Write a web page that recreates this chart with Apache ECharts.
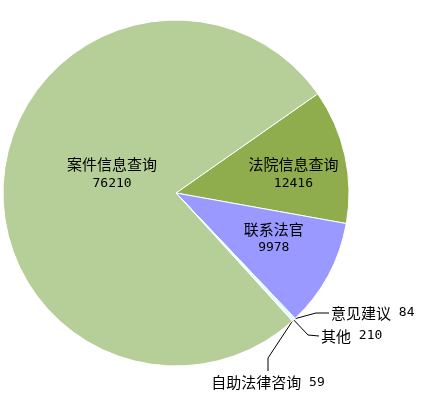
<!DOCTYPE html>
<html><head><meta charset="utf-8">
<script src="https://cdn.jsdelivr.net/npm/echarts@6/dist/echarts.min.js"></script>
<style>html,body{margin:0;padding:0;background:#fff}#c{width:421px;height:400px}</style>
</head><body><div id="c"></div>
<script>
var categories = ['法院信息查询', '联系法官', '意见建议', '其他', '自助法律咨询', '案件信息查询'];
var values = [12416, 9978, 84, 210, 59, 76210];
var colors = ['#8FAD4D', '#9999FF', '#336666', '#CCFFFF', '#FFFFCC', '#B6CE97'];

// label placement (styling/layout only)
var insideOffsets = {'法院信息查询': [30, 0], '联系法官': [19, 3], '案件信息查询': [25, -9]};
var outerLayout = {
  '意见建议': { bend: [316, 313], end: [329, 313], x: 331, y: 313, align: 'left', va: 'middle' },
  '其他': { bend: [308, 335], end: [319, 336], x: 321, y: 336, align: 'left', va: 'middle' },
  '自助法律咨询': { bend: [268, 358], end: [268, 371], x: 268, y: 373, align: 'center', va: 'top' }
};

var nameFont = '"Noto Sans CJK SC", sans-serif';
var numFont = '"DejaVu Sans Mono", monospace';

var chart = echarts.init(document.getElementById('c'));
var data = categories.map(function (name, i) {
  var item = { name: name, value: values[i], itemStyle: { color: colors[i] } };
  if (insideOffsets[name]) {
    item.label = { position: 'inside', formatter: '{n|{b}}\n{v|{c}}', offset: insideOffsets[name] };
    item.labelLine = { show: false };
  } else {
    item.label = { position: 'outside', formatter: '{n|{b}}{v| {c}}' };
  }
  return item;
});
chart.setOption({
  animation: false,
  series: [{
    type: 'pie',
    center: [176, 193],
    radius: 173,
    startAngle: 35,
    clockwise: true,
    avoidLabelOverlap: false,
    itemStyle: { borderColor: '#fff', borderWidth: 1 },
    label: {
      color: '#000', overflow: 'none',
      rich: {
        n: { fontSize: 15, lineHeight: 19, fontFamily: nameFont, color: '#000' },
        v: { fontSize: 13, lineHeight: 19, fontFamily: numFont, color: '#000' }
      }
    },
    labelLine: { show: true, length: 12, length2: 14, lineStyle: { color: '#000', width: 1 } },
    labelLayout: function (p) {
      var name = categories[p.dataIndex];
      var L = outerLayout[name];
      if (!L || !p.labelLinePoints) return {};
      var s = p.labelLinePoints[0];
      return {
        x: L.x, y: L.y, align: L.align, verticalAlign: L.va,
        labelLinePoints: [[s[0], s[1]], L.bend, L.end]
      };
    },
    emphasis: { disabled: true },
    data: data
  }]
});
</script></body></html>
